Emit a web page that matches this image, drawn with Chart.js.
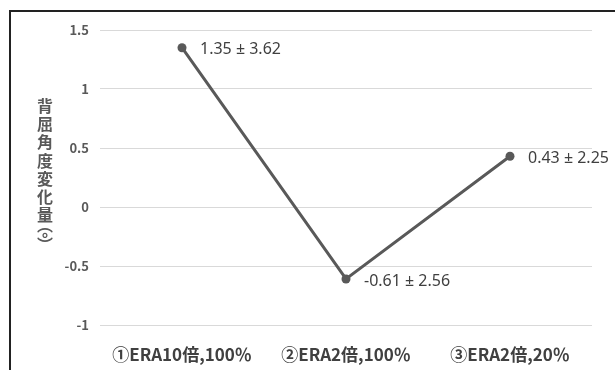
<!DOCTYPE html>
<html>
<head>
<meta charset="utf-8">
<script src="https://cdn.jsdelivr.net/npm/chart.js@4/dist/chart.umd.min.js"></script>
<style>
    html, body { margin: 0; padding: 0; background: #fff; overflow: hidden; }
    #wrap { position: relative; width: 615px; height: 370px; }
    #frame {
        position: absolute; left: 9px; top: 10px; width: 700px; height: 400px;
        border-top: 2px solid #222; border-left: 2px solid #222;
    }
    #chart { position: absolute; left: 0; top: 0; }
</style>
</head>
<body>
<div id="wrap">
    <div id="frame"></div>
    <canvas id="chart" width="615" height="370"></canvas>
</div>
<script>
// chart data
const categories = ['①ERA10倍,100％', '②ERA2倍,100％', '③ERA2倍,20％'];
const meanValues = [1.35, -0.61, 0.43];
const sdValues = [3.62, 2.56, 2.25];
const yTicks = [-1, -0.5, 0, 0.5, 1, 1.5];
const yTitleChars = ['背', '屈', '角', '度', '変', '化', '量', '︵', '°', '︶'];

const cjk = '"Noto Sans CJK JP", "Noto Sans", sans-serif';

// vertical (stacked) y axis title
const yTitlePlugin = {
    id: 'yTitle',
    afterDraw(chart) {
        const ctx = chart.ctx;
        const area = chart.chartArea;
        const steps = yTitleChars.map((c) => (/[︵︶°]/.test(c) ? 10 : 18.3));
        const total = steps.slice(1).reduce((a, b) => a + b, 0);
        let y = (area.top + area.bottom) / 2 - total / 2 - 2;
        ctx.save();
        ctx.fillStyle = '#595959';
        ctx.font = 'bold 16px ' + cjk;
        ctx.textAlign = 'center';
        ctx.textBaseline = 'middle';
        yTitleChars.forEach((c, i) => {
            if (i > 0) y += steps[i];
            ctx.fillText(c, 45, c === '°' ? y + 4 : y);
        });
        ctx.restore();
    }
};

// "mean ± sd" labels next to the points
const pointLabelPlugin = {
    id: 'pointLabels',
    afterDatasetsDraw(chart) {
        const ctx = chart.ctx;
        const meta = chart.getDatasetMeta(0);
        ctx.save();
        ctx.fillStyle = '#404040';
        ctx.font = '16px "Noto Sans", sans-serif';
        ctx.textAlign = 'left';
        ctx.textBaseline = 'middle';
        meta.data.forEach((pt, i) => {
            const text = meanValues[i].toFixed(2) + ' ± ' + sdValues[i].toFixed(2);
            ctx.fillText(text, pt.x + 18, pt.y + 2);
        });
        ctx.restore();
    }
};

new Chart(document.getElementById('chart'), {
    type: 'line',
    data: {
        labels: categories,
        datasets: [{
            data: meanValues,
            borderColor: '#595959',
            backgroundColor: '#595959',
            borderWidth: 3,
            pointRadius: 4.5,
            pointBackgroundColor: '#595959',
            pointBorderWidth: 0,
            tension: 0,
        }]
    },
    options: {
        responsive: false,
        animation: false,
        devicePixelRatio: 1,
        layout: { padding: { left: 10, right: 23, top: 30, bottom: 0 } },
        plugins: {
            legend: { display: false },
            tooltip: { enabled: false },
        },
        scales: {
            x: {
                offset: true,
                grid: { display: false, drawTicks: false },
                border: { display: false },
                ticks: {
                    color: '#404040',
                    font: { family: cjk, size: 17, weight: 'bold' },
                    padding: 19,
                    maxRotation: 0,
                },
                afterFit: (s) => { s.height = 45; },
            },
            y: {
                min: -1,
                max: 1.5,
                grid: { color: '#d9d9d9', lineWidth: 1, drawTicks: false },
                border: { display: false },
                ticks: {
                    color: '#595959',
                    font: { family: cjk, size: 13, weight: 'bold' },
                    padding: 11,
                    callback: (v) => String(v),
                },
                afterBuildTicks: (s) => { s.ticks = yTicks.map((v) => ({ value: v })); },
                afterFit: (s) => { s.width = 90; },
            }
        }
    },
    plugins: [yTitlePlugin, pointLabelPlugin]
});
</script>
</body>
</html>
